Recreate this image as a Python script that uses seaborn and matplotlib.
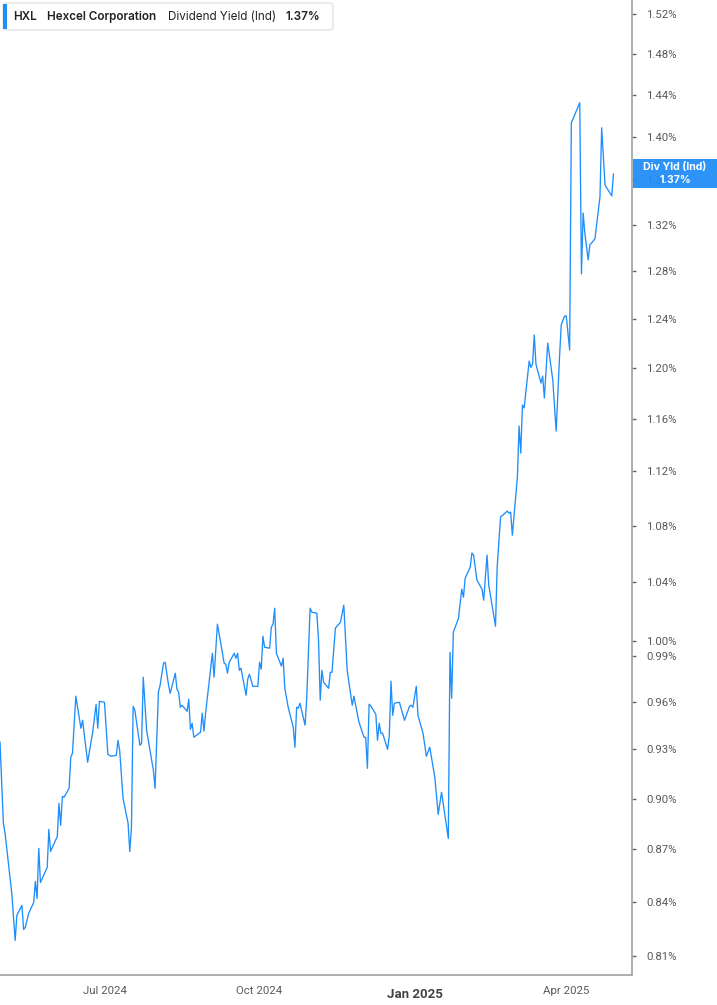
import matplotlib
matplotlib.use("Agg")
import matplotlib.pyplot as plt
import matplotlib.ticker as mticker
from matplotlib.patches import FancyBboxPatch, Rectangle
import seaborn as sns
import pandas as pd

# ---------------- data ----------------
dates = [
    "2024-04-30", "2024-05-02", "2024-05-03", "2024-05-07", "2024-05-09", "2024-05-10",
    "2024-05-13", "2024-05-14", "2024-05-15", "2024-05-17", "2024-05-20", "2024-05-21",
    "2024-05-22", "2024-05-23", "2024-05-24", "2024-05-28", "2024-05-29", "2024-05-30",
    "2024-06-03", "2024-06-04", "2024-06-05", "2024-06-06", "2024-06-07", "2024-06-10",
    "2024-06-11", "2024-06-12", "2024-06-14", "2024-06-16", "2024-06-17", "2024-06-18",
    "2024-06-21", "2024-06-24", "2024-06-26", "2024-06-27", "2024-06-28", "2024-07-01",
    "2024-07-03", "2024-07-05", "2024-07-08", "2024-07-09", "2024-07-10", "2024-07-12",
    "2024-07-15", "2024-07-16", "2024-07-17", "2024-07-18", "2024-07-19", "2024-07-22",
    "2024-07-23", "2024-07-24", "2024-07-26", "2024-07-30", "2024-07-31", "2024-08-02",
    "2024-08-03", "2024-08-05", "2024-08-06", "2024-08-08", "2024-08-09", "2024-08-12",
    "2024-08-13", "2024-08-14", "2024-08-15", "2024-08-16", "2024-08-19", "2024-08-20",
    "2024-08-21", "2024-08-22", "2024-08-23", "2024-08-27", "2024-08-28", "2024-08-29",
    "2024-08-30", "2024-09-03", "2024-09-04", "2024-09-06", "2024-09-08", "2024-09-10",
    "2024-09-11", "2024-09-12", "2024-09-13", "2024-09-16", "2024-09-17", "2024-09-18",
    "2024-09-19", "2024-09-20", "2024-09-23", "2024-09-24", "2024-09-25", "2024-09-27",
    "2024-09-30", "2024-10-01", "2024-10-02", "2024-10-03", "2024-10-04", "2024-10-07",
    "2024-10-08", "2024-10-09", "2024-10-10", "2024-10-11", "2024-10-14", "2024-10-15",
    "2024-10-16", "2024-10-18", "2024-10-21", "2024-10-22", "2024-10-23", "2024-10-24",
    "2024-10-25", "2024-10-28", "2024-10-29", "2024-10-31", "2024-11-01", "2024-11-04",
    "2024-11-05", "2024-11-06", "2024-11-07", "2024-11-08", "2024-11-11", "2024-11-12",
    "2024-11-13", "2024-11-15", "2024-11-18", "2024-11-20", "2024-11-22", "2024-11-25",
    "2024-11-26", "2024-11-29", "2024-12-02", "2024-12-03", "2024-12-04", "2024-12-05",
    "2024-12-06", "2024-12-09", "2024-12-10", "2024-12-11", "2024-12-12", "2024-12-13",
    "2024-12-16", "2024-12-17", "2024-12-18", "2024-12-19", "2024-12-20", "2024-12-23",
    "2024-12-26", "2024-12-29", "2024-12-30", "2024-12-31", "2025-01-02", "2025-01-03",
    "2025-01-06", "2025-01-08", "2025-01-10", "2025-01-13", "2025-01-15", "2025-01-17",
    "2025-01-21", "2025-01-22", "2025-01-23", "2025-01-24", "2025-01-27", "2025-01-29",
    "2025-01-30", "2025-01-31", "2025-02-03", "2025-02-04", "2025-02-05", "2025-02-07",
    "2025-02-10", "2025-02-11", "2025-02-13", "2025-02-14", "2025-02-18", "2025-02-19",
    "2025-02-21", "2025-02-25", "2025-02-26", "2025-02-27", "2025-02-28", "2025-03-03",
    "2025-03-04", "2025-03-05", "2025-03-06", "2025-03-07", "2025-03-10", "2025-03-11",
    "2025-03-12", "2025-03-13", "2025-03-14", "2025-03-17", "2025-03-18", "2025-03-19",
    "2025-03-21", "2025-03-24", "2025-03-26", "2025-03-28", "2025-03-29", "2025-03-31",
    "2025-04-01", "2025-04-03", "2025-04-04", "2025-04-09", "2025-04-10", "2025-04-11",
    "2025-04-12", "2025-04-14", "2025-04-15", "2025-04-17", "2025-04-18", "2025-04-21",
    "2025-04-22", "2025-04-24", "2025-04-25", "2025-04-28", "2025-04-29",
]

div_yield_pct = [
    0.9347, 0.8853, 0.8794, 0.8448, 0.8187, 0.8325,
    0.8381, 0.8247, 0.8258, 0.8336, 0.8397, 0.8516,
    0.8420, 0.8706, 0.8510, 0.8596, 0.8817, 0.8688,
    0.8776, 0.8972, 0.8841, 0.9014, 0.9008, 0.9062,
    0.9252, 0.9277, 0.9637, 0.9502, 0.9433, 0.9483,
    0.9221, 0.9408, 0.9585, 0.9433, 0.9604, 0.9598,
    0.9270, 0.9258, 0.9264, 0.9357, 0.9295, 0.9002,
    0.8853, 0.8688, 0.8829, 0.9572, 0.9547, 0.9326,
    0.9339, 0.9760, 0.9420, 0.9172, 0.9062, 0.9665,
    0.9708, 0.9851, 0.9858, 0.9708, 0.9656, 0.9786,
    0.9682, 0.9662, 0.9566, 0.9579, 0.9540, 0.9617,
    0.9426, 0.9464, 0.9376, 0.9408, 0.9528, 0.9414,
    0.9528, 0.9917, 0.9760, 1.0112, 0.9984, 0.9851,
    0.9845, 0.9786, 0.9858, 0.9917, 0.9884, 0.9917,
    0.9805, 0.9818, 0.9643, 0.9747, 0.9779, 0.9701,
    0.9701, 0.9858, 0.9812, 1.0031, 0.9957, 0.9951,
    1.0091, 1.0112, 1.0220, 0.9917, 0.9832, 0.9884,
    0.9688, 0.9566, 0.9439, 0.9314, 0.9566, 0.9560,
    0.9592, 0.9452, 0.9624, 1.0220, 1.0193, 1.0186,
    1.0004, 0.9611, 0.9805, 0.9727, 0.9688, 0.9792,
    0.9792, 1.0085, 1.0125, 1.0241, 0.9805, 0.9579,
    0.9637, 0.9471, 0.9376, 0.9376, 0.9184, 0.9585,
    0.9575, 0.9521, 0.9357, 0.9464, 0.9401, 0.9401,
    0.9301, 0.9389, 0.9734, 0.9515, 0.9592, 0.9598,
    0.9483, 0.9572, 0.9579, 0.9566, 0.9701, 0.9515,
    0.9401, 0.9258, 0.9314, 0.9129, 0.8906, 0.9038,
    0.8764, 0.9924, 0.9624, 1.0058, 1.0150, 1.0351,
    1.0296, 1.0427, 1.0504, 1.0603, 1.0589, 1.0413,
    1.0351, 1.0275, 1.0589, 1.0379, 1.0098, 1.0504,
    1.0861, 1.0905, 1.0890, 1.0897, 1.0731, 1.1155,
    1.1542, 1.1335, 1.1705, 1.1682, 1.2054, 1.2003,
    1.2029, 1.2265, 1.2029, 1.1878, 1.1934, 1.1760,
    1.2200, 1.1902, 1.1503, 1.2087, 1.2348, 1.2422,
    1.2422, 1.2143, 1.4132, 1.4322, 1.2776, 1.3307,
    1.3130, 1.2896, 1.3026, 1.3061, 1.3078, 1.3450,
    1.4085, 1.3558, 1.3531, 1.3459, 1.3658,
]

ytick_values = [0.81, 0.84, 0.87, 0.90, 0.93, 0.96, 0.99, 1.00, 1.04, 1.08, 1.12,
                1.16, 1.20, 1.24, 1.28, 1.32, 1.36, 1.40, 1.44, 1.48, 1.52]
xtick_dates = ["2024-07-01", "2024-10-01", "2025-01-01", "2025-04-01"]
xtick_labels = ["Jul 2024", "Oct 2024", "Jan 2025", "Apr 2025"]

ticker_symbol = "HXL"
company_name = "Hexcel Corporation"
metric_name = "Dividend Yield (Ind)"
metric_short = "Div Yld (Ind)"
current_value = "1.37%"

# ---------------- style ----------------
sns.set_style("white")
plt.rcParams['font.family'] = ['Roboto', 'DejaVu Sans']

LINE_BLUE = "#1f8efa"
AXIS_GRAY = "#a0a0a0"
TEXT_GRAY = "#5a5a5a"

W, H = 717, 1005
fig = plt.figure(figsize=(W / 100, H / 100), dpi=100)
bottom = 30 / H
ax = fig.add_axes([0, bottom, 632 / W, 1 - bottom])

df = pd.DataFrame({"date": pd.to_datetime(dates), "value": div_yield_pct})
sns.lineplot(data=df, x="date", y="value", ax=ax, color=LINE_BLUE, lw=0.95)

ax.set_yscale("log")
ax.set_ylim(0.80, 1.534)
ax.set_xlim(pd.Timestamp("2024-04-30"), pd.Timestamp("2025-05-10"))
ax.set_xlabel("")
ax.set_ylabel("")

ax.yaxis.tick_right()
ax.yaxis.set_major_locator(mticker.FixedLocator(ytick_values))
ax.yaxis.set_major_formatter(mticker.FuncFormatter(lambda v, p: f"{v:.2f}%"))
ax.yaxis.set_minor_locator(mticker.NullLocator())
ax.yaxis.set_minor_formatter(mticker.NullFormatter())
ax.tick_params(axis="y", which="major", direction="out", length=3, width=1,
               color="#666666", pad=7, labelsize=8.2, labelcolor=TEXT_GRAY,
               left=False, right=True)

ax.set_xticks(pd.to_datetime(xtick_dates))
ax.set_xticklabels(xtick_labels)
ax.tick_params(axis="x", direction="out", length=5, width=1, color=AXIS_GRAY,
               pad=3, labelsize=8.2, labelcolor=TEXT_GRAY)
for lbl in ax.get_xticklabels():
    if lbl.get_text().startswith("Jan"):
        lbl.set_fontweight("bold")
        lbl.set_fontsize(9.5)
        lbl.set_color("#444444")
        lbl.set_y(-0.002)

for side in ["left", "top"]:
    ax.spines[side].set_visible(False)
for side in ["right", "bottom"]:
    ax.spines[side].set_visible(True)
    ax.spines[side].set_color(AXIS_GRAY)
    ax.spines[side].set_linewidth(1.2)
ax.grid(False)

# ---------------- legend box (top left) ----------------
bx0, bx1 = 3 / W, 333 / W
by0, by1 = 1 - 30 / H, 1 - 3 / H
fig.patches.append(FancyBboxPatch((bx0, by0), bx1 - bx0, by1 - by0,
                                  boxstyle="round,pad=0,rounding_size=0.004",
                                  transform=fig.transFigure, facecolor="white",
                                  edgecolor="#e3e3e3", linewidth=1.0, zorder=5))
fig.patches.append(Rectangle((bx0, by0 + 1 / H), 4 / W, (by1 - by0) - 2 / H,
                             transform=fig.transFigure, facecolor=LINE_BLUE,
                             edgecolor="none", zorder=6))
ty = 1 - 17 / H
leg_font = ["Inter", "DejaVu Sans"]
fig.text(13 / W, ty, ticker_symbol, ha="left", va="center", fontsize=8.4,
         fontweight="semibold", color="#222222", family=leg_font, zorder=7)
fig.text(47 / W, ty, company_name, ha="left", va="center", fontsize=8.4,
         fontweight="semibold", color="#222222", family=leg_font, zorder=7)
fig.text(168 / W, ty, metric_name, ha="left", va="center", fontsize=8.4,
         color="#222222", family=leg_font, zorder=7)
fig.text(285 / W, ty, current_value, ha="left", va="center", fontsize=8.4,
         fontweight="semibold", color="#222222", family=leg_font, zorder=7)

# ---------------- current value tag (right) ----------------
fig.canvas.draw()
last_val = div_yield_pct[-1]
yd = ax.transData.transform((ax.get_xlim()[1], last_val))[1]
yc = yd / H
tag_h = 29 / H
fig.patches.append(Rectangle((633 / W, yc - tag_h / 2), (W - 633) / W, tag_h,
                             transform=fig.transFigure, facecolor="#1e8bf7",
                             edgecolor="none", alpha=0.93, zorder=8))
fig.text(675 / W, yc + 6.5 / H, metric_short, ha="center", va="center", fontsize=7.6,
         fontweight="bold", color="white", family=leg_font, zorder=9)
fig.text(675 / W, yc - 6.5 / H, current_value, ha="center", va="center", fontsize=7.6,
         fontweight="bold", color="white", family=leg_font, zorder=9)

fig.savefig("out.png", dpi=100, facecolor="white")
